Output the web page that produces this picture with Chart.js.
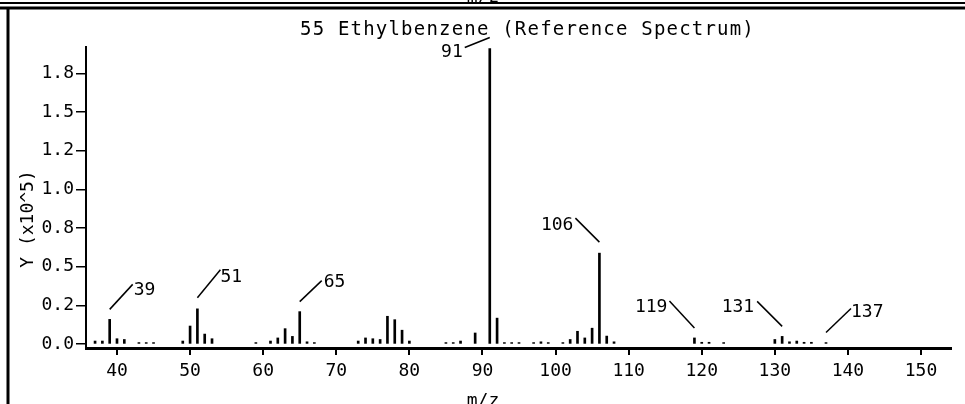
<!DOCTYPE html>
<html>
<head>
<meta charset="utf-8">
<script src="https://cdn.jsdelivr.net/npm/chart.js@4.4.0/dist/chart.umd.min.js"></script>
<style>
  html, body { margin: 0; padding: 0; background: #fff; }
  #wrap { width: 965px; height: 404px; }
</style>
</head>
<body>
<div id="wrap"><canvas id="spectrum" width="965" height="404"></canvas></div>
<script>
// Ethylbenzene reference mass spectrum, intensities in units of 1e5
const chartTitle = '55 Ethylbenzene (Reference Spectrum)';
const xAxisTitle = 'm/z';
const yAxisTitle = 'Y (x10^5)';

const mzValues = [
  37, 38, 39, 40, 41, 43, 44, 45,
  49, 50, 51, 52, 53,
  59, 61, 62, 63, 64, 65, 66, 67,
  73, 74, 75, 76, 77, 78, 79, 80,
  85, 86, 87, 89, 91, 92, 93, 94, 95,
  97, 98, 99, 101, 102, 103, 104, 105, 106, 107, 108,
  119, 120, 121, 123,
  130, 131, 132, 133, 134, 135, 137
];
const intensities = [
  0.02, 0.02, 0.16, 0.035, 0.03, 0.01, 0.01, 0.01,
  0.02, 0.117, 0.228, 0.065, 0.035,
  0.01, 0.02, 0.04, 0.10, 0.05, 0.21, 0.015, 0.01,
  0.02, 0.04, 0.035, 0.03, 0.18, 0.158, 0.09, 0.02,
  0.01, 0.01, 0.02, 0.072, 1.91, 0.168, 0.01, 0.01, 0.01,
  0.01, 0.015, 0.01, 0.01, 0.03, 0.083, 0.04, 0.103, 0.588, 0.052, 0.015,
  0.04, 0.012, 0.012, 0.01,
  0.03, 0.05, 0.015, 0.02, 0.012, 0.012, 0.01
];
const labelledPeaks = [39, 51, 65, 91, 106, 119, 131, 137];

const xTickValues = [40, 50, 60, 70, 80, 90, 100, 110, 120, 130, 140, 150];
const yTickValues = [0, 0.25, 0.5, 0.75, 1.0, 1.25, 1.5, 1.75];
const yTickLabels = ['0.0', '0.2', '0.5', '0.8', '1.0', '1.2', '1.5', '1.8'];

const FONT = "'DejaVu Sans Mono', monospace";

// leader line for each labelled peak: direction from just above the peak, and text placement
const leaderStyle = {
  39:  { gap: 10, dx: 23,  dy: -25, align: 'left',  tx: 1,  ty: 4 },
  51:  { gap: 11, dx: 23,  dy: -28, align: 'left',  tx: 0,  ty: 6 },
  65:  { gap: 10, dx: 22,  dy: -21, align: 'left',  tx: 2,  ty: 0 },
  91:  { gap: 11, dx: -25, dy: 10,  align: 'right', tx: -2, ty: 3 },
  106: { gap: 11, dx: -24, dy: -24, align: 'right', tx: -2, ty: 5 },
  119: { gap: 10, dx: -25, dy: -27, align: 'right', tx: -2, ty: 5 },
  131: { gap: 10, dx: -25, dy: -25, align: 'right', tx: -3, ty: 4 },
  137: { gap: 10, dx: 25,  dy: -24, align: 'left',  tx: 0,  ty: 2 }
};

const spectrumDecor = {
  id: 'spectrumDecor',
  afterDraw(chart) {
    const ctx = chart.ctx;
    const xs = chart.scales.x;
    const ys = chart.scales.y;
    ctx.save();
    ctx.fillStyle = '#000';
    ctx.strokeStyle = '#000';

    // page frame left over from the scan
    ctx.lineWidth = 2;
    ctx.beginPath();
    ctx.moveTo(0, 3); ctx.lineTo(965, 3);
    ctx.stroke();
    ctx.lineWidth = 3;
    ctx.beginPath();
    ctx.moveTo(0, 8); ctx.lineTo(965, 8);
    ctx.moveTo(8, 8); ctx.lineTo(8, 404);
    ctx.stroke();

    ctx.font = '18px ' + FONT;
    ctx.textAlign = 'center';
    ctx.textBaseline = 'alphabetic';
    ctx.fillText(xAxisTitle, 483, 2);

    // title
    ctx.font = '19px ' + FONT;
    if ('letterSpacing' in ctx) ctx.letterSpacing = '1.2px';
    ctx.textAlign = 'left';
    ctx.fillText(chartTitle, 300, 35);
    if ('letterSpacing' in ctx) ctx.letterSpacing = '0px';

    // axis titles
    ctx.font = '18px ' + FONT;
    ctx.textAlign = 'center';
    ctx.fillText(xAxisTitle, 483, 406);
    ctx.save();
    ctx.translate(28, 219);
    ctx.rotate(-Math.PI / 2);
    ctx.textBaseline = 'middle';
    ctx.fillText(yAxisTitle, 0, 0);
    ctx.restore();

    // peak labels with leader lines
    ctx.lineWidth = 1.5;
    labelledPeaks.forEach(mz => {
      const i = mzValues.indexOf(mz);
      const st = leaderStyle[mz];
      const x0 = xs.getPixelForValue(mz);
      const y0 = ys.getPixelForValue(intensities[i]) - st.gap;
      const x1 = x0 + st.dx;
      const y1 = y0 + st.dy;
      ctx.beginPath();
      ctx.moveTo(x0, y0);
      ctx.lineTo(x1, y1);
      ctx.stroke();
      ctx.textAlign = st.align;
      ctx.textBaseline = 'alphabetic';
      ctx.fillText(String(mz), x1 + st.tx, y1 + st.ty + 6.5);
    });
    ctx.restore();
  }
};

const ctx = document.getElementById('spectrum').getContext('2d');
new Chart(ctx, {
  type: 'bar',
  data: {
    datasets: [{
      data: mzValues.map((m, i) => ({ x: m, y: intensities[i] })),
      backgroundColor: '#000',
      borderWidth: 0,
      barThickness: 2
    }]
  },
  options: {
    responsive: false,
    animation: false,
    devicePixelRatio: 1,
    layout: { padding: { top: 47, right: 14, left: 0, bottom: 0 } },
    plugins: {
      legend: { display: false },
      tooltip: { enabled: false },
      title: { display: false }
    },
    scales: {
      x: {
        type: 'linear',
        min: 35.76,
        max: 154.1,
        offset: false,
        afterBuildTicks: s => { s.ticks = xTickValues.map(v => ({ value: v })); },
        afterFit: s => { s.height = 56; },
        grid: { offset: false, drawOnChartArea: false, tickLength: 7, color: '#000', lineWidth: 2 },
        border: { display: true, color: '#000', width: 3 },
        ticks: { color: '#000', font: { family: FONT, size: 18 }, padding: 6, maxRotation: 0 }
      },
      y: {
        min: -0.025,
        max: 1.92,
        afterBuildTicks: s => { s.ticks = yTickValues.map(v => ({ value: v })); },
        afterFit: s => { s.width = 86; },
        grid: { drawOnChartArea: false, tickLength: 10, color: '#000', lineWidth: 1.5 },
        border: { display: true, color: '#000', width: 2 },
        ticks: {
          color: '#000',
          font: { family: FONT, size: 18 },
          padding: 2,
          callback: (v, i) => yTickLabels[i]
        }
      }
    }
  },
  plugins: [spectrumDecor]
});
</script>
</body>
</html>
